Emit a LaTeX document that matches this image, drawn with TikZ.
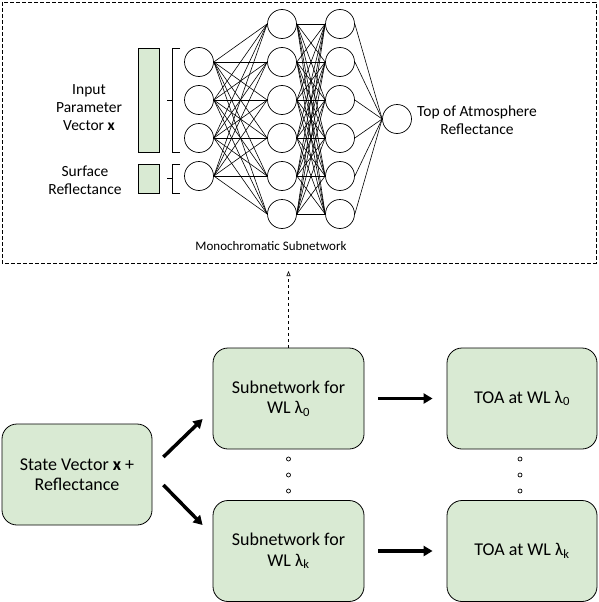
\documentclass[tikz,border=0pt]{standalone}
\usepackage{fontspec}
\setmainfont{Carlito}
\usetikzlibrary{arrows.meta}
\definecolor{boxgreen}{RGB}{217,234,211}

\begin{document}
\begin{tikzpicture}[x = 1pt, y = -1pt,
        neuron/.style = {draw, circle, minimum size = 29pt, inner sep = 0pt, line width = 0.7pt},
        bar/.style = {draw, fill = boxgreen, inner sep = 0pt, minimum width = 21pt, line width = 0.7pt},
        block/.style = {draw, fill = boxgreen, rounded corners = 15pt, minimum width = 151pt, minimum height = 101pt,
            align = center, font = \fontsize{18}{20.5}\selectfont, line width = 0.8pt},
        small/.style = {align = center, font = \fontsize{15.5}{18}\selectfont},
        fat/.style = {line width = 3.5pt, -{Triangle[length = 9pt, width = 10pt]}}]
            \useasboundingbox (0,0) rectangle (598,602);
            \draw [dash pattern = on 4pt off 2pt, line width = 0.7pt] (2,2) rectangle (596,263);
            \foreach \i in {1,...,4}
                \node [neuron] (in\i) at (199, {24 + 38*\i}) {};
            \foreach \i in {1,...,6} {
                \node [neuron] (ha\i) at (282, {-14 + 38*\i}) {};
                \node [neuron] (hb\i) at (340, {-14 + 38*\i}) {};
            }
            \node [neuron] (out) at (397,119) {};
            \foreach \i in {1,...,4}
                \foreach \j in {1,...,6}
                    \draw [line width = 0.6pt] (in\i.east) -- (ha\j.west);
            \foreach \i in {1,...,6}
                \foreach \j in {1,...,6}
                    \draw [line width = 0.6pt] (ha\i.east) -- (hb\j.west);
            \foreach \j in {1,...,6}
                \draw [line width = 0.6pt] (hb\j.east) -- (out.west);
            \node [bar, minimum height = 104pt] (vecbar) at (148.5,100) {};
            \node [bar, minimum height = 29pt] (refbar) at (148.5,178.5) {};
            \draw [line width = 0.6pt] (180,48) -- (172,48) -- (172,152) -- (180,152);
                \draw [line width = 0.6pt] (172,100) -- (167,100);
            \draw [line width = 0.6pt] (180,164) -- (172,164) -- (172,193) -- (180,193);
                \draw [line width = 0.6pt] (172,178.5) -- (167,178.5);
            \node [small] (vec) at (89,108) {Input\\Parameter\\Vector \textbf{x}};
            \node [small] (refl) at (85,180) {Surface\\Reflectance};
            \node [small] (toa) at (477,120) {Top of Atmosphere\\Reflectance};
            \node [small, font = \fontsize{13}{15}\selectfont] (mono) at (271,246) {Monochromatic Subnetwork};
            \node [block, minimum width = 150pt] (state) at (77,474.5) {State Vector \textbf{x} +\\Reflectance};
            \node [block] (sub0) at (288.5,398.5) {Subnetwork for\\WL λ\textsubscript{0}};
            \node [block] (subk) at (288.5,551) {Subnetwork for\\WL λ\textsubscript{k}};
            \node [block, minimum width = 150pt] (toa0) at (522,398.5) {TOA at WL λ\textsubscript{0}};
            \node [block, minimum width = 150pt] (toak) at (522,551) {TOA at WL λ\textsubscript{k}};
            \draw [fat] ([shift = {(11,-17.5)}]state.east) -- ([shift = {(-10,20.5)}]sub0.west);
            \draw [fat] ([shift = {(11,10.5)}]state.east) -- ([shift = {(-10,-26)}]subk.west);
            \draw [fat, shorten <= 14pt, shorten >= 14pt] (sub0) -- (toa0);
            \draw [fat, shorten <= 14pt, shorten >= 14pt] (subk) -- (toak);
            \coordinate (frame) at (288.5,271);
            \draw [dashed, line width = 0.6pt, -{Triangle[open, length = 5pt, width = 4pt]}] (sub0.north) -- (frame);
            \foreach \y in {459,475,491} {
                \draw [line width = 0.7pt] (288.5,\y) circle [radius = 2pt];
                \draw [line width = 0.7pt] (520,\y) circle [radius = 2pt];
            }
\end{tikzpicture}
\end{document}
